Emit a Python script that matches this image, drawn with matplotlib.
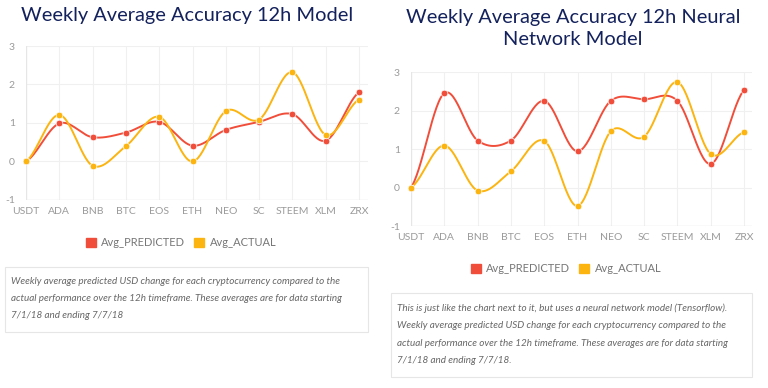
import numpy as np
import matplotlib
matplotlib.use("Agg")
import matplotlib.pyplot as plt
from matplotlib.patches import Rectangle, Patch

plt.rcParams["axes.unicode_minus"] = False

categories = ["USDT", "ADA", "BNB", "BTC", "EOS", "ETH", "NEO", "SC", "STEEM", "XLM", "ZRX"]
left_predicted = [0.0, 0.99, 0.63, 0.75, 1.03, 0.41, 0.82, 1.03, 1.23, 0.54, 1.80]
left_actual = [0.0, 1.21, -0.11, 0.40, 1.16, 0.0, 1.31, 1.09, 2.32, 0.69, 1.61]
right_predicted = [0.0, 2.45, 1.22, 1.22, 2.25, 0.94, 2.25, 2.29, 2.25, 0.61, 2.53]
right_actual = [0.0, 1.09, -0.08, 0.42, 1.21, -0.48, 1.46, 1.32, 2.74, 0.87, 1.44]
y_ticks = [-1, 0, 1, 2, 3]
series_names = ["Avg_PREDICTED", "Avg_ACTUAL"]
left_title = "Weekly Average Accuracy 12h Model"
right_title = "Weekly Average Accuracy 12h Neural\nNetwork Model"
left_note = ("Weekly average predicted USD change for each cryptocurrency compared to the\n"
             "actual performance over the 12h timeframe. These averages are for data starting\n"
             "7/1/18 and ending 7/7/18")
right_note = ("This is just like the chart next to it, but uses a neural network model (Tensorflow).\n"
              "Weekly average predicted USD change for each cryptocurrency compared to the\n"
              "actual performance over the 12h timeframe. These averages are for data starting\n"
              "7/1/18 and ending 7/7/18.")

RED = "#f04e3a"
GOLD = "#fbb410"
NAVY = "#13215c"
GRAY = "#9a9a9a"

W, H = 768, 388
fig = plt.figure(figsize=(W / 100, H / 100), dpi=100)
fig.patch.set_facecolor("white")


def px_rect(x0, y0, x1, y1):
    return [x0 / W, 1 - y1 / H, (x1 - x0) / W, (y1 - y0) / H]


def catmull(xs, ys, n=30, tension=0.5):
    xs = np.asarray(xs, float)
    ys = np.asarray(ys, float)
    px = np.concatenate([[2 * xs[0] - xs[1]], xs, [2 * xs[-1] - xs[-2]]])
    py = np.concatenate([[ys[0]], ys, [ys[-1]]])
    ox, oy = [], []
    for i in range(1, len(px) - 2):
        t = np.linspace(0, 1, n, endpoint=False)
        m1 = tension * (py[i + 1] - py[i - 1])
        m2 = tension * (py[i + 2] - py[i])
        h00 = 2 * t**3 - 3 * t**2 + 1
        h10 = t**3 - 2 * t**2 + t
        h01 = -2 * t**3 + 3 * t**2
        h11 = t**3 - t**2
        ox.append(px[i] + t * (px[i + 1] - px[i]))
        oy.append(h00 * py[i] + h10 * m1 + h01 * py[i + 1] + h11 * m2)
    ox.append([xs[-1]])
    oy.append([ys[-1]])
    return np.concatenate(ox), np.concatenate(oy)


def draw(rect, pred, act, xmax):
    ax = fig.add_axes(rect)
    x = np.arange(len(categories))
    for s in ax.spines.values():
        s.set_visible(False)
    ax.set_xlim(0, xmax)
    ax.set_ylim(-1, 3)
    for yv in y_ticks:
        ax.axhline(yv, color="#f0f0f0", lw=0.8, zorder=0)
    for xv in x:
        ax.axvline(xv, color="#f0f0f0", lw=0.8, zorder=0)
    ax.axhline(-1, color="#dedede", lw=0.9, zorder=1)
    ax.axvline(0, color="#e6e6e6", lw=0.9, zorder=1)
    for vals, c in ((pred, RED), (act, GOLD)):
        sx, sy = catmull(x, vals)
        ax.plot(sx, sy, color=c, lw=1.4, zorder=3, clip_on=False)
        ax.plot(x, vals, "o", color=c, ms=4.8, mec="white", mew=0.5, zorder=4, clip_on=False)
    ax.set_xticks(x)
    ax.set_xticklabels(categories)
    ax.set_yticks(y_ticks)
    ax.tick_params(length=0, colors=GRAY, labelsize=7.5, pad=5)
    for lab in ax.get_xticklabels() + ax.get_yticklabels():
        lab.set_family("Lato")
    ax.tick_params(axis="y", pad=8)
    return ax


draw(px_rect(26, 46, 368, 200), left_predicted, left_actual, 10.27)
draw(px_rect(411, 72, 752, 226), right_predicted, right_actual, 10.24)

fig.text(187 / W, 1 - 15 / H, left_title, ha="center", va="center", fontsize=14.4,
         color=NAVY, family="Lato")
fig.text(573 / W, 1 - 28.5 / H, right_title, ha="center", va="center", fontsize=14.4,
         color=NAVY, family="Lato", linespacing=1.3)

handles = [Patch(facecolor=RED, edgecolor=RED), Patch(facecolor=GOLD, edgecolor=GOLD)]
for cx, cy in ((181, 242.5), (566, 268.5)):
    leg = fig.legend(handles, series_names, loc="center", bbox_to_anchor=(cx / W, 1 - cy / H),
                     ncol=2, frameon=False, handlelength=0.9, handleheight=0.9,
                     handletextpad=0.5, columnspacing=0.8, prop={"family": "Lato", "size": 8})
    for t in leg.get_texts():
        t.set_color("#777777")

for (x0, y0, x1, y1), txt, ty in (((5, 267, 368, 332), left_note, 282),
                                  ((391, 293, 752, 377), right_note, 309)):
    fig.patches.append(Rectangle((x0 / W, 1 - y1 / H), (x1 - x0) / W, (y1 - y0) / H,
                                 transform=fig.transFigure, facecolor="white",
                                 edgecolor="#e6e6e6", lw=0.8))
    fig.text((x0 + 6) / W, 1 - (ty - 5.5) / H, txt, ha="left", va="top", fontsize=7.1,
             style="italic", color="#666666", family="Lato", linespacing=2.18)

fig.savefig("out.png", dpi=100, facecolor="white")
